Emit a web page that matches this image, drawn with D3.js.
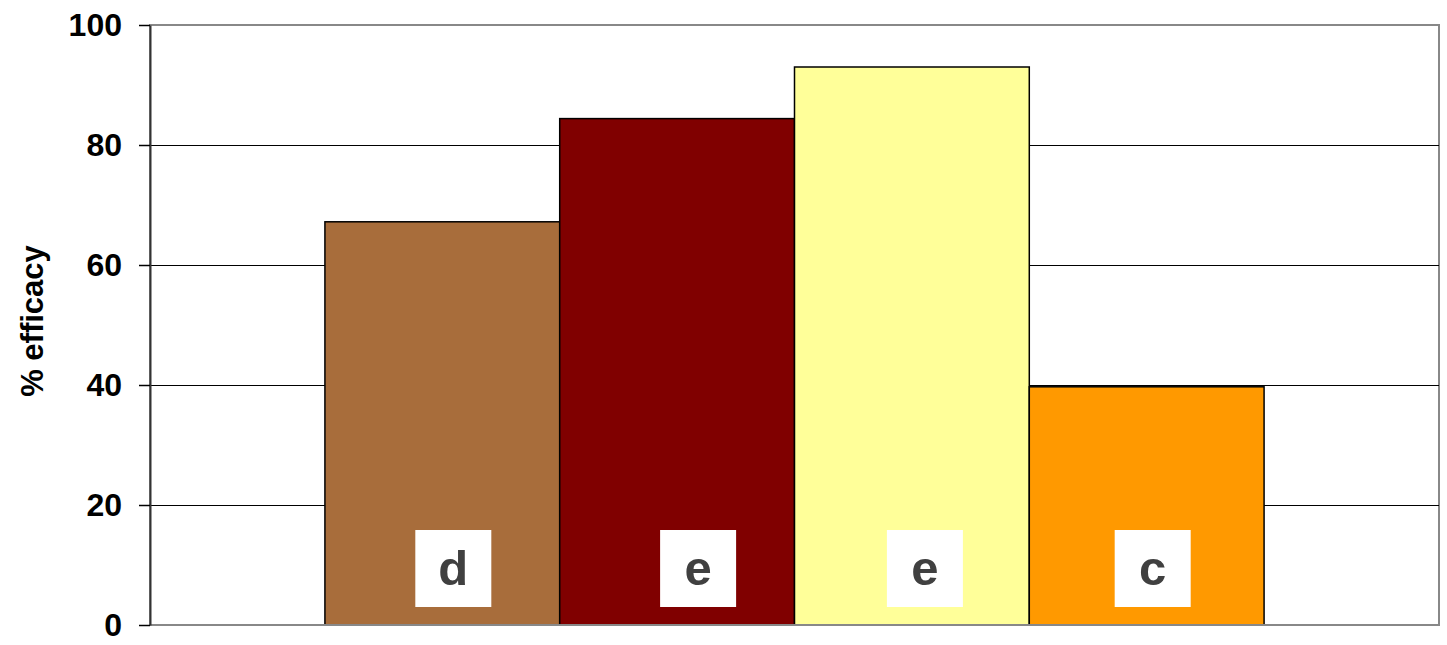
<!DOCTYPE html>
<html>
<head>
<meta charset="utf-8">
<script src="https://cdn.jsdelivr.net/npm/d3@7.9.0/dist/d3.min.js"></script>
<style>
  body { margin: 0; background: #fff; }
  svg { display: block; font-family: "Liberation Sans", Arial, sans-serif; }
</style>
</head>
<body>
<div id="chart"></div>
<script>
// data
const series = ['s1', 's2', 's3', 's4'];
const values = [67.2, 84.4, 93.0, 39.7];
const letters = ['d', 'e', 'e', 'c'];
const colors = ['#a86d3b', '#800000', '#ffff99', '#ff9900'];
const yTicks = [0, 20, 40, 60, 80, 100];

const width = 1447, height = 645;
const margin = { top: 25, right: 8, bottom: 20, left: 150 };
const usable = {
  left: margin.left,
  right: width - margin.right,
  top: margin.top,
  bottom: height - margin.bottom,
};

const svg = d3.select('#chart').append('svg')
  .attr('width', width).attr('height', height);

const x = d3.scaleBand()
  .domain(series)
  .range([usable.left, usable.right])
  .paddingInner(0)
  .paddingOuter(0.745);

const y = d3.scaleLinear().domain([0, 100]).range([usable.bottom, usable.top]);

// frame (top / right grey)
svg.append('rect')
  .attr('x', usable.left).attr('y', usable.top)
  .attr('width', usable.right - usable.left)
  .attr('height', usable.bottom - usable.top)
  .attr('fill', 'none').attr('stroke', '#888').attr('stroke-width', 2);

// gridlines
svg.append('g')
  .selectAll('line').data(yTicks.filter(d => d > 0 && d < 100)).join('line')
  .attr('x1', usable.left).attr('x2', usable.right)
  .attr('y1', d => Math.round(y(d)) + 0.5).attr('y2', d => Math.round(y(d)) + 0.5)
  .attr('stroke', '#000').attr('stroke-width', 1);

// bars
svg.append('g')
  .selectAll('rect').data(values).join('rect')
  .attr('x', (d, i) => x(series[i]))
  .attr('y', d => y(d))
  .attr('width', x.bandwidth())
  .attr('height', d => y(0) - y(d))
  .attr('fill', (d, i) => colors[i])
  .attr('stroke', '#000').attr('stroke-width', 1.5);

// bottom axis line
svg.append('line')
  .attr('x1', usable.left).attr('x2', usable.right)
  .attr('y1', y(0)).attr('y2', y(0))
  .attr('stroke', '#888').attr('stroke-width', 2);

// y axis
const yAxis = svg.append('g')
  .attr('transform', `translate(${usable.left},0)`)
  .call(d3.axisLeft(y).tickValues(yTicks).tickSize(11).tickSizeOuter(0).tickPadding(17));
yAxis.select('.domain').attr('stroke', '#333').attr('stroke-width', 2);
yAxis.selectAll('.tick line').attr('stroke', '#000').attr('stroke-width', 1.5);
yAxis.selectAll('.tick text')
  .attr('font-size', 32).attr('font-weight', 'bold').attr('fill', '#000')
  .attr('font-family', '"Liberation Sans", Arial, sans-serif');

// letter boxes (slight offsets from bar centre as in the original)
const boxShift = [11, 21, 13, 6];
const boxSize = 76;
const lbl = svg.append('g').selectAll('g').data(letters).join('g')
  .attr('transform', (d, i) => {
    const cx = x(series[i]) + x.bandwidth() / 2 + boxShift[i];
    return `translate(${cx},${y(0) - 19 - boxSize / 2})`;
  });
lbl.append('rect')
  .attr('x', -boxSize / 2).attr('y', -boxSize / 2)
  .attr('width', boxSize).attr('height', boxSize + 1)
  .attr('fill', '#fff');
lbl.append('text')
  .attr('text-anchor', 'middle').attr('y', 16.5)
  .attr('font-size', 49).attr('font-weight', 'bold').attr('fill', '#404040')
  .text(d => d);

// y title
svg.append('text')
  .attr('transform', `translate(43,321) rotate(-90)`)
  .attr('text-anchor', 'middle')
  .attr('font-size', 31).attr('font-weight', 'bold')
  .text('% efficacy');
</script>
</body>
</html>
